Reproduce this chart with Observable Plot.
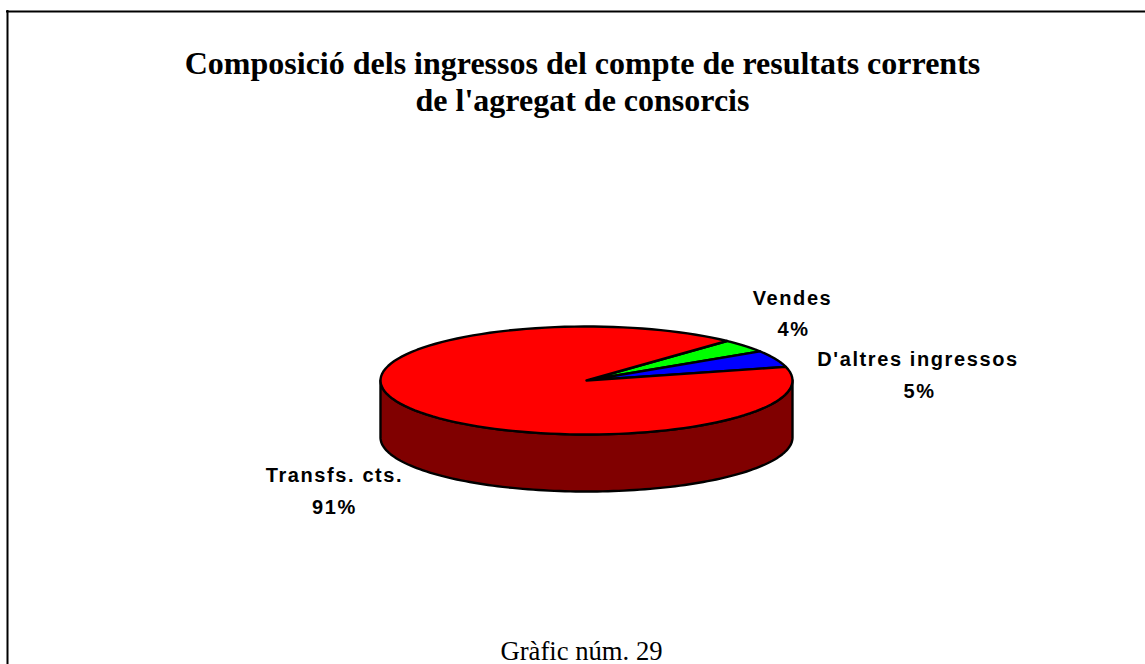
<!DOCTYPE html>
<html>
<head>
<meta charset="utf-8">
<script src="https://cdn.jsdelivr.net/npm/d3@7"></script>
<script src="https://cdn.jsdelivr.net/npm/@observablehq/plot@0.6"></script>
<style>html,body{margin:0;padding:0;background:#fff;overflow:hidden}svg{display:block}</style>
</head>
<body>
<div id="chart"></div>
<script>
const categories = ["Vendes", "D'altres ingressos", "Transfs. cts."];
const shares = [4, 5, 91];
const sliceColors = ["#00ff00", "#0000ff", "#ff0000"];
const sideColor = "#800000";
const titleLines = ["Composició dels ingressos del compte de resultats corrents", "de l'agregat de consorcis"];
const captionText = "Gràfic núm. 29";

const W = 1145, H = 664;
const pie = {cx: 586, cy: 380, rx: 206, ry: 54, depth: 57, start: 43};
const labelAt = [
  {x: 792, x2: 793, y1: 304, y2: 335},
  {x: 917.5, x2: 919, y1: 365, y2: 397},
  {x: 334, x2: 334, y1: 481, y2: 513}
];

const pt = (deg) => {
  const a = (deg - 90) * Math.PI / 180;
  return {x: pie.cx + pie.rx * Math.cos(a), y: pie.cy + pie.ry * Math.sin(a)};
};
const arc = (from, to) => d3.range(0, 121).map(i => pt(from + (to - from) * i / 120));

// side wall: lower half of the ellipse, dropped by the depth
const front = arc(90, 270);
const wall = [...front, ...front.slice().reverse().map(p => ({x: p.x, y: p.y + pie.depth}))];
wall.push(wall[0]);

// slices of the top face
const total = d3.sum(shares);
let acc = pie.start;
const slices = shares.map((v, i) => {
  const from = acc, to = acc + v / total * 360;
  acc = to;
  const c = {x: pie.cx, y: pie.cy};
  return {points: [c, ...arc(from, to), c], color: sliceColors[i]};
});

const sliceMarks = slices.map(s =>
  Plot.line(s.points, {x: "x", y: "y", fill: s.color, stroke: "#000", strokeWidth: 2.4, curve: "linear"}));

const sans = "Liberation Sans", serif = "Liberation Serif";
const labelRows = categories.flatMap((c, i) => [
  {text: c, x: labelAt[i].x, y: labelAt[i].y1},
  {text: shares[i] + "%", x: labelAt[i].x2, y: labelAt[i].y2}
]);

const plot = Plot.plot({
  width: W, height: H, margin: 0,
  x: {domain: [0, W], range: [0, W], axis: null},
  y: {domain: [0, H], range: [0, H], axis: null},
  marks: [
    Plot.ruleY([11], {x1: 6, x2: W, stroke: "#000", strokeWidth: 2}),
    Plot.ruleX([7], {y1: 10, y2: H, stroke: "#000", strokeWidth: 2}),
    Plot.line(wall, {x: "x", y: "y", fill: sideColor, stroke: "#000", strokeWidth: 2.4}),
    ...sliceMarks,
    Plot.text(labelRows, {x: "x", y: "y", text: "text", lineAnchor: "bottom", fontFamily: sans, fontWeight: "bold", fontSize: 20, fill: "#000"}),
    Plot.text(titleLines, {x: 582, y: (d, i) => [73, 110][i], text: d => d, lineAnchor: "bottom", fontFamily: serif, fontWeight: "bold", fontSize: 32, fill: "#000"}),
    Plot.text([captionText], {x: 581, y: 659, text: d => d, lineAnchor: "bottom", fontFamily: serif, fontSize: 26.67, fill: "#000"})
  ]
});
d3.select(plot).selectAll('g[font-family="Liberation Sans"]').attr("letter-spacing", "1.6px");
document.getElementById("chart").append(plot);
</script>
</body>
</html>
